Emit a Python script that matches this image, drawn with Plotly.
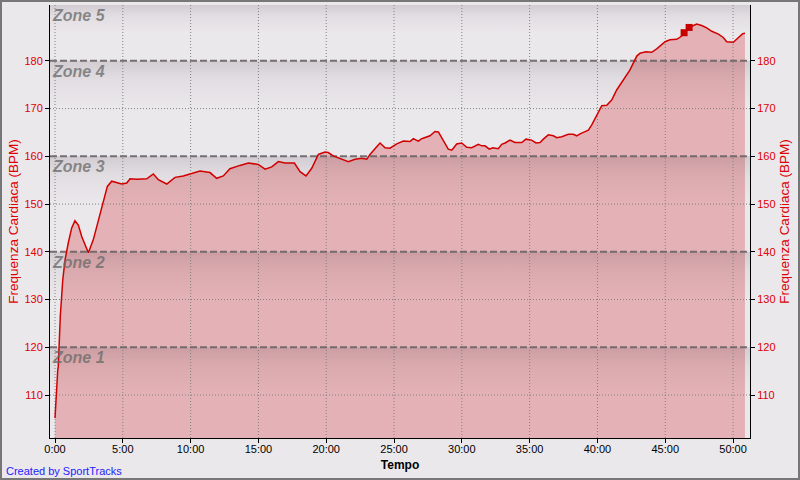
import plotly.graph_objects as go

# ---------------- data ----------------
time_min = [0.0, 0.05, 0.13, 0.2, 0.24, 0.27, 0.39, 0.57, 0.74, 0.98, 1.23, 1.47, 1.72, 1.97,
            2.46, 2.82, 3.19, 3.56, 3.86, 4.18, 4.55, 4.92, 5.29, 5.53, 6.03, 6.76, 7.25, 7.62,
            8.24, 8.85, 9.46, 10.2, 10.69, 11.43, 11.92, 12.41, 12.9, 13.64, 14.26, 14.99, 15.49,
            15.98, 16.47, 16.96, 17.65, 18.07, 18.51, 18.93, 19.42, 19.91, 20.15, 20.52, 21.02,
            21.63, 22.12, 22.62, 22.99, 23.23, 23.72, 23.97, 24.34, 24.7, 25.2, 25.69, 26.18,
            26.42, 26.79, 27.04, 27.65, 28.02, 28.27, 28.64, 29.0, 29.26, 29.62, 29.99, 30.36,
            30.73, 31.22, 31.47, 31.71, 32.03, 32.28, 32.69, 32.94, 33.19, 33.55, 33.92, 34.42,
            34.73, 35.15, 35.47, 35.77, 36.01, 36.38, 36.75, 37.0, 37.37, 37.85, 38.22, 38.47,
            38.72, 39.09, 39.33, 39.58, 39.82, 40.14, 40.32, 40.69, 41.05, 41.42, 41.91, 42.4,
            42.9, 43.14, 43.58, 44.0, 44.37, 44.99, 45.35, 45.85, 46.22, 46.39, 46.76, 47.07,
            47.32, 47.69, 48.06, 48.43, 48.92, 49.28, 49.53, 50.02, 50.39, 50.71, 50.88]
heart_rate = [105.2, 108.3, 111.0, 115.2, 116.0, 118.8, 126.5, 134.1, 138.3, 141.9, 145.0, 146.5,
              145.6, 143.2, 139.8, 142.5, 146.7, 150.9, 153.7, 154.8, 154.5, 154.2, 154.4, 155.3,
              155.2, 155.3, 156.3, 155.1, 154.2, 155.6, 155.9, 156.6, 156.9, 156.6, 155.4, 155.9,
              157.4, 158.1, 158.6, 158.3, 157.3, 157.8, 158.9, 158.6, 158.6, 156.8, 155.9, 157.5,
              160.4, 160.9, 160.8, 160.1, 159.6, 158.9, 159.4, 159.6, 159.4, 160.4, 162.0, 162.8,
              161.8, 161.7, 162.6, 163.2, 163.1, 163.7, 163.2, 163.7, 164.3, 165.2, 165.1, 163.4,
              161.5, 161.3, 162.6, 162.8, 161.9, 161.8, 162.5, 162.2, 162.2, 161.5, 161.8, 161.6,
              162.5, 162.8, 163.4, 162.9, 162.9, 163.6, 163.4, 162.8, 162.9, 163.6, 164.5, 164.3,
              163.9, 164.1, 164.6, 164.6, 164.3, 164.7, 165.1, 165.5, 166.6, 168.0, 169.6, 170.6,
              170.7, 171.8, 173.9, 176.0, 178.1, 181.0, 181.6, 181.9, 181.8, 182.5, 184.0, 184.4,
              184.5, 185.2, 185.9, 187.0, 187.3, 187.7, 187.4, 186.9, 186.2, 185.6, 184.9, 184.0,
              183.9, 184.9, 185.7, 185.8]
peak_time = [46.39, 46.76]
peak_hr = [185.9, 187.0]

x_tick_vals = [0, 5, 10, 15, 20, 25, 30, 35, 40, 45, 50]
x_tick_text = ["0:00", "5:00", "10:00", "15:00", "20:00", "25:00", "30:00", "35:00",
               "40:00", "45:00", "50:00"]
y_tick_vals = [110, 120, 130, 140, 150, 160, 170, 180]
zone_names = ["Zone 1", "Zone 2", "Zone 3", "Zone 4", "Zone 5"]
zone_lower = [100, 120, 140, 160, 180]
zone_upper = [120, 140, 160, 180, 200]

# ---------------- layout constants ----------------
W, H = 800, 480
ML, MR, MT, MB = 50, 50, 5, 42
PW, PH = W - ML - MR, H - MT - MB
X_RANGE = [-0.37, 51.25]
Y_RANGE = [101.0, 191.7]
BG = "#ebe8ec"
RED = "#dd0000"
GRID = "#808080"

fig = go.Figure()

# pink area
fig.add_trace(go.Scatter(x=time_min, y=heart_rate, mode="lines", fill="tozeroy",
                         fillcolor="#e4b2b6", line=dict(width=0), hoverinfo="skip",
                         showlegend=False))

# zone gradient bands (dark at the top of each zone)
for lo, hi in zip(zone_lower, zone_upper):
    top = min(hi, Y_RANGE[1])
    fig.add_trace(go.Scatter(
        x=[X_RANGE[0], X_RANGE[1], X_RANGE[1], X_RANGE[0], X_RANGE[0]],
        y=[lo, lo, top, top, lo], mode="lines", fill="toself",
        line=dict(width=0),
        fillgradient=dict(type="vertical", start=lo, stop=top,
                          colorscale=[[0, "rgba(40,20,30,0)"], [0.5, "rgba(40,20,30,0.0)"],
                                      [0.8, "rgba(40,20,30,0.05)"], [1, "rgba(40,20,30,0.13)"]]),
        hoverinfo="skip", showlegend=False))

# dotted grid (vertical)
gx, gy = [], []
for t in x_tick_vals:
    gx += [t, t, None]
    gy += [Y_RANGE[0], Y_RANGE[1], None]
fig.add_trace(go.Scatter(x=gx, y=gy, mode="lines", line=dict(color=GRID, width=1, dash="1px,2px"),
                         hoverinfo="skip", showlegend=False))
# dotted grid (horizontal, non-zone)
hx, hy = [], []
for v in y_tick_vals:
    if v in zone_lower:
        continue
    hx += [X_RANGE[0], X_RANGE[1], None]
    hy += [v, v, None]
fig.add_trace(go.Scatter(x=hx, y=hy, mode="lines", line=dict(color=GRID, width=1, dash="1px,2px"),
                         hoverinfo="skip", showlegend=False))
# dashed zone boundaries
zx, zy = [], []
for v in zone_lower[1:]:
    zx += [X_RANGE[0], X_RANGE[1], None]
    zy += [v, v, None]
fig.add_trace(go.Scatter(x=zx, y=zy, mode="lines",
                         line=dict(color="rgba(105,100,102,0.9)", width=2, dash="7px,3px"),
                         hoverinfo="skip", showlegend=False))

# heart-rate line
fig.add_trace(go.Scatter(x=time_min, y=heart_rate, mode="lines",
                         line=dict(color="#d00000", width=1.5), hoverinfo="skip",
                         showlegend=False))

# peak markers (on the right axis, same scale)
fig.add_trace(go.Scatter(x=peak_time, y=peak_hr, mode="markers", yaxis="y2",
                         marker=dict(symbol="square", size=7, color="#c80000",
                                     line=dict(width=0)),
                         hoverinfo="skip", showlegend=False))

# zone labels
for name, hi in zip(zone_names, zone_upper):
    fig.add_annotation(x=0, xref="paper", y=min(hi, Y_RANGE[1]), yref="y",
                       xanchor="left", yanchor="top", text=name, showarrow=False,
                       font=dict(family="Liberation Sans", size=16, color="rgba(105,105,105,0.75)",
                                 weight="bold", style="italic"))

fig.add_annotation(x=(4 - ML) / PW, xref="paper", y=(MT + PH - 471) / PH, yref="paper",
                   xanchor="left", yanchor="middle", text="Created by SportTracks",
                   showarrow=False, font=dict(family="Liberation Sans", size=11, color="#2222ff"))

# frame
fig.add_shape(type="rect", xref="paper", yref="paper",
              x0=(1 - ML) / PW, x1=(W - 1 - ML) / PW,
              y0=(MT + PH - (H - 1)) / PH, y1=(MT + PH - 1) / PH,
              line=dict(color="#777777", width=2), fillcolor="rgba(0,0,0,0)", layer="above")

tick_font = dict(family="Liberation Sans", size=11, color=RED)
title_font = dict(family="Liberation Sans", size=13.5, color=RED)

fig.update_layout(
    width=W, height=H, margin=dict(l=ML, r=MR, t=MT, b=MB, autoexpand=False),
    paper_bgcolor=BG, plot_bgcolor=BG, showlegend=False, hovermode=False,
    xaxis=dict(range=X_RANGE, tickvals=x_tick_vals, ticktext=x_tick_text, showgrid=False,
               zeroline=False, showline=True, linecolor="black", linewidth=1,
               ticks="outside", ticklen=4, tickcolor="black", ticklabelstandoff=-3,
               tickfont=dict(family="Liberation Sans", size=11, color="black"),
               title=dict(text="<b>Tempo</b>", standoff=6,
                          font=dict(family="Liberation Sans", size=12, color="black"))),
    yaxis=dict(range=Y_RANGE, tickvals=y_tick_vals, showgrid=False, zeroline=False,
               showline=True, linecolor="black", linewidth=1, ticks="outside", ticklen=4,
               tickcolor="black", tickfont=tick_font,
               title=dict(text="Frequenza Cardiaca (BPM)", standoff=2, font=title_font)),
    yaxis2=dict(range=Y_RANGE, tickvals=y_tick_vals, overlaying="y", side="right",
                showgrid=False, zeroline=False, showline=True, linecolor="black", linewidth=1,
                ticks="outside", ticklen=4, tickcolor="black", tickfont=tick_font,
                title=dict(text="Frequenza Cardiaca (BPM)", standoff=4, font=title_font)),
)

fig.write_html("out.html", config={"displayModeBar": False},
               post_script="document.body.style.margin='0';")
